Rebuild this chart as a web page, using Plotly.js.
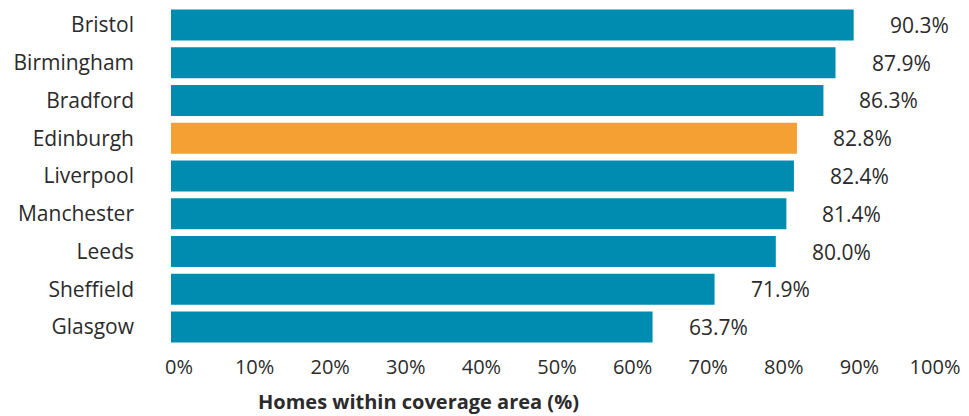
<!DOCTYPE html>
<html><head><meta charset="utf-8">
<script src="https://cdn.plot.ly/plotly-3.0.1.min.js"></script>
<style>html,body{margin:0;padding:0;background:#fff}</style>
</head><body>
<div id="chart" style="width:969px;height:416px"></div>
<script>
const cities = ["Bristol","Birmingham","Bradford","Edinburgh","Liverpool","Manchester","Leeds","Sheffield","Glasgow"];
const coverage = [90.3,87.9,86.3,82.8,82.4,81.4,80.0,71.9,63.7];
const highlight = "Edinburgh";
const tickValues = [0,10,20,30,40,50,60,70,80,90,100];
const tickLabels = ["0%","10%","20%","30%","40%","50%","60%","70%","80%","90%","100%"];

const teal = "#008bb0", orange = "#f5a033", txt = "#2b2b2b";
const font = "'Open Sans', sans-serif";

const trace = {
  type: "bar", orientation: "h",
  x: coverage, y: cities,
  marker: {color: cities.map(c => c === highlight ? orange : teal)},
  hoverinfo: "none"
};

const annotations = coverage.map((v, i) => ({
  x: v, y: cities[i], xref: "x", yref: "y",
  text: v.toFixed(1) + "%", showarrow: false,
  xanchor: "left", xshift: 34,
  font: {family: font, size: 21, color: txt}
}));
annotations.push({
  text: "<b>Homes within coverage area (%)</b>", showarrow: false,
  xref: "paper", yref: "paper", x: 0.328, y: 0, xanchor: "center", yanchor: "middle",
  yshift: -55, font: {family: font, size: 20, color: txt}
});

const layout = {
  width: 969, height: 416,
  margin: {l: 171, r: 42, t: 6, b: 70},
  paper_bgcolor: "#fff", plot_bgcolor: "#fff",
  bargap: 0.18,
  showlegend: false,
  font: {family: font, color: txt, size: 21},
  xaxis: {
    range: [0, 100], tickvals: tickValues, ticktext: tickLabels,
    showgrid: false, zeroline: false, showline: false, ticks: "",
    ticklabelshift: 8, ticklabelstandoff: 7,
    tickfont: {family: font, size: 20, color: txt}
  },
  yaxis: {
    autorange: "reversed", type: "category",
    showgrid: false, zeroline: false, showline: false, ticks: "",
    ticklabelstandoff: 36,
    tickfont: {family: font, size: 21, color: txt}
  },
  annotations: annotations
};

Plotly.newPlot("chart", [trace], layout, {displayModeBar: false, staticPlot: true});
</script>
</body></html>
